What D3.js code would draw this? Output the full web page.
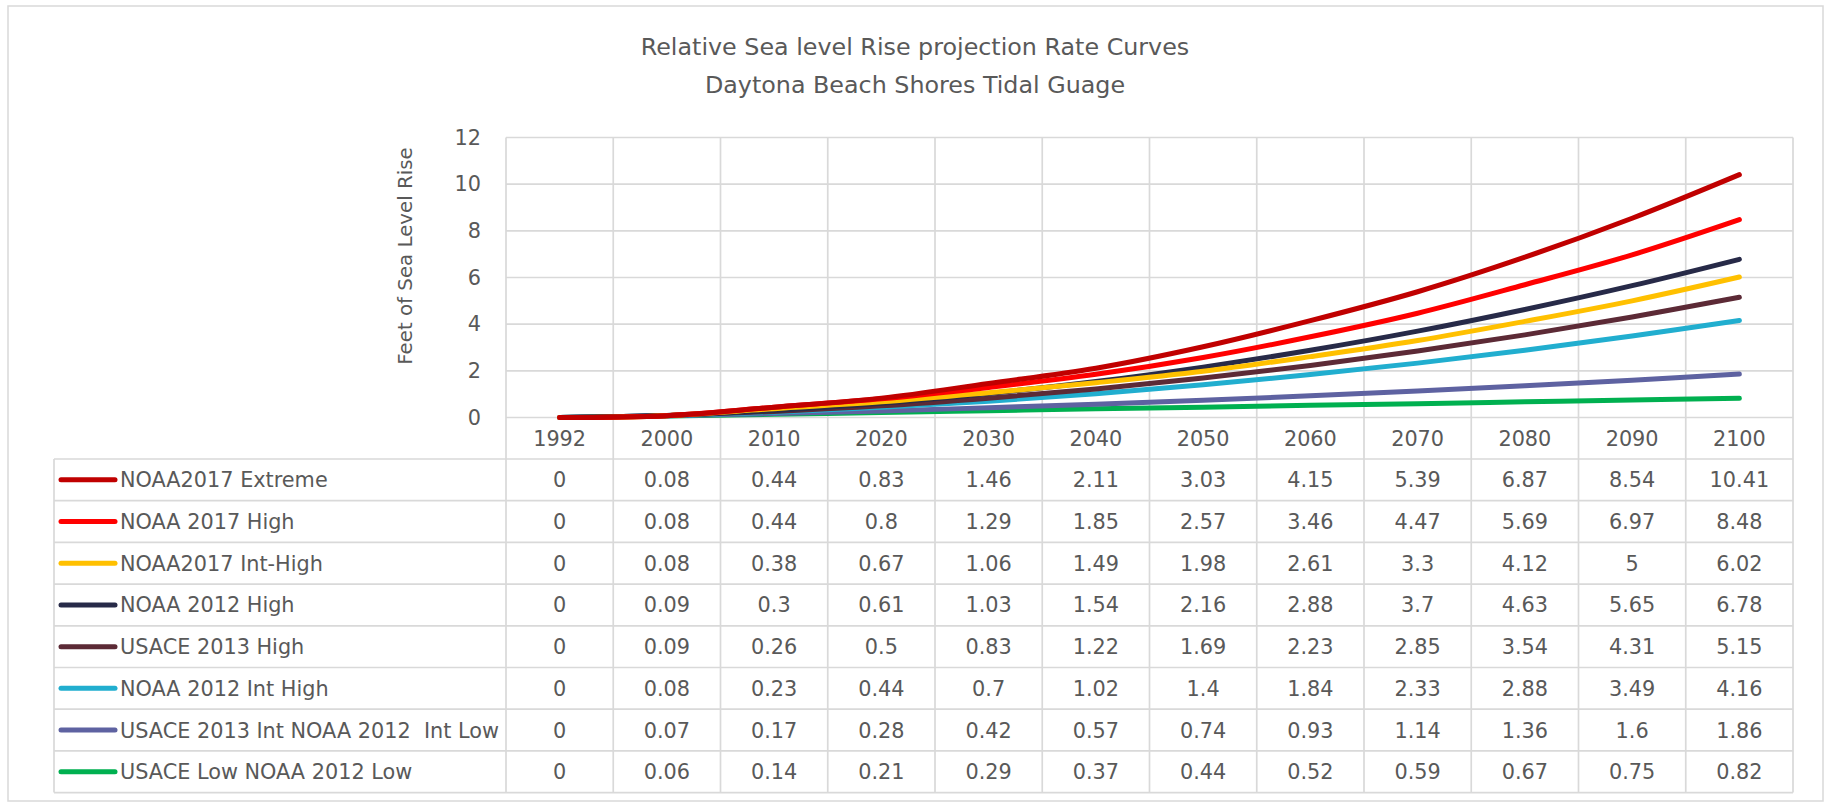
<!DOCTYPE html>
<html>
<head>
<meta charset="utf-8">
<script src="https://d3js.org/d3.v7.min.js"></script>
<style>
  body { margin: 0; background: #fff; }
  text { font-family: "DejaVu Sans", sans-serif; fill: #595959; }
</style>
</head>
<body>
<div class="chart"></div>
<script>

// chart data
var years = ["1992", "2000", "2010", "2020", "2030", "2040", "2050", "2060", "2070", "2080", "2090", "2100"];

var seriesNames = [
  "NOAA2017 Extreme",
  "NOAA 2017 High",
  "NOAA2017 Int-High",
  "NOAA 2012 High",
  "USACE 2013 High",
  "NOAA 2012 Int High",
  "USACE 2013 Int NOAA 2012  Int Low",
  "USACE Low NOAA 2012 Low"
];

var noaa2017Extreme = [0, 0.08, 0.44, 0.83, 1.46, 2.11, 3.03, 4.15, 5.39, 6.87, 8.54, 10.41];
var noaa2017High = [0, 0.08, 0.44, 0.8, 1.29, 1.85, 2.57, 3.46, 4.47, 5.69, 6.97, 8.48];
var noaa2017IntHigh = [0, 0.08, 0.38, 0.67, 1.06, 1.49, 1.98, 2.61, 3.3, 4.12, 5, 6.02];
var noaa2012High = [0, 0.09, 0.3, 0.61, 1.03, 1.54, 2.16, 2.88, 3.7, 4.63, 5.65, 6.78];
var usace2013High = [0, 0.09, 0.26, 0.5, 0.83, 1.22, 1.69, 2.23, 2.85, 3.54, 4.31, 5.15];
var noaa2012IntHigh = [0, 0.08, 0.23, 0.44, 0.7, 1.02, 1.4, 1.84, 2.33, 2.88, 3.49, 4.16];
var usaceIntNoaaIntLow = [0, 0.07, 0.17, 0.28, 0.42, 0.57, 0.74, 0.93, 1.14, 1.36, 1.6, 1.86];
var usaceLowNoaaLow = [0, 0.06, 0.14, 0.21, 0.29, 0.37, 0.44, 0.52, 0.59, 0.67, 0.75, 0.82];

var yTicks = [0, 2, 4, 6, 8, 10, 12];

var seriesColors = ["#C00000", "#FF0000", "#FFC000", "#272A48", "#5C2A36", "#21AECF", "#5E62A1", "#00B050"];

var seriesValues = [noaa2017Extreme, noaa2017High, noaa2017IntHigh, noaa2012High,
  usace2013High, noaa2012IntHigh, usaceIntNoaaIntLow, usaceLowNoaaLow];

var series = seriesNames.map(function(name, i) {
  return { name: name, color: seriesColors[i], values: seriesValues[i] };
});

var svgWidth = 1829;
var svgHeight = 803;

// plot box and data table below it
var plot = { left: 506, right: 1793, top: 137.5, bottom: 417.5 };
var table = { left: 54, headerBottom: 459, rowHeight: 41.7 };
var gridColor = "#D9D9D9";

var svg = d3.select(".chart")
  .append("svg")
  .attr("width", svgWidth)
  .attr("height", svgHeight);

// outer chart border
svg.append("rect")
  .attr("x", 8)
  .attr("y", 6)
  .attr("width", 1815)
  .attr("height", 795)
  .attr("fill", "none")
  .attr("stroke", gridColor)
  .attr("stroke-width", 1.5);

// title
var titleGroup = svg.append("g")
  .attr("font-size", "23.8px")
  .attr("text-anchor", "middle");

titleGroup.append("text")
  .attr("x", 915)
  .attr("y", 55)
  .text("Relative Sea level Rise projection Rate Curves");

titleGroup.append("text")
  .attr("x", 915)
  .attr("y", 93)
  .text("Daytona Beach Shores Tidal Guage");

// scales
var xBandScale = d3.scaleBand()
  .domain(years)
  .range([plot.left, plot.right]);

var xPoint = function(year) {
  return xBandScale(year) + xBandScale.bandwidth() / 2;
};

var yLinearScale = d3.scaleLinear()
  .domain([0, 12])
  .range([plot.bottom, plot.top]);

// horizontal gridlines
svg.append("g")
  .selectAll("line")
  .data(yTicks)
  .enter()
  .append("line")
  .attr("x1", plot.left)
  .attr("x2", plot.right)
  .attr("y1", d => yLinearScale(d))
  .attr("y2", d => yLinearScale(d))
  .attr("stroke", gridColor)
  .attr("stroke-width", 1.7);

var tableBottom = table.headerBottom + table.rowHeight * series.length;

// vertical lines run from the plot top through the table
var columnEdges = years.map(d => xBandScale(d)).concat([plot.right]);

svg.append("g")
  .selectAll("line")
  .data(columnEdges)
  .enter()
  .append("line")
  .attr("x1", d => d)
  .attr("x2", d => d)
  .attr("y1", plot.top)
  .attr("y2", tableBottom)
  .attr("stroke", gridColor)
  .attr("stroke-width", 1.7);

// table row lines and left edge
var rowEdges = d3.range(series.length + 1).map(i => table.headerBottom + i * table.rowHeight);

svg.append("g")
  .selectAll("line")
  .data(rowEdges)
  .enter()
  .append("line")
  .attr("x1", table.left)
  .attr("x2", plot.right)
  .attr("y1", d => d)
  .attr("y2", d => d)
  .attr("stroke", gridColor)
  .attr("stroke-width", 1.7);

svg.append("line")
  .attr("x1", table.left)
  .attr("x2", table.left)
  .attr("y1", table.headerBottom)
  .attr("y2", tableBottom)
  .attr("stroke", gridColor)
  .attr("stroke-width", 1.7);

// y axis
var leftAxis = d3.axisLeft(yLinearScale)
  .tickValues(yTicks)
  .tickSize(0)
  .tickPadding(25);

var yAxis = svg.append("g")
  .attr("transform", `translate(${plot.left}, 0)`)
  .call(leftAxis);

yAxis.select(".domain").remove();
yAxis.selectAll("text")
  .attr("font-size", "20.8px")
  .attr("font-family", "DejaVu Sans")
  .attr("fill", "#595959");

svg.append("text")
  .attr("transform", "rotate(-90)")
  .attr("x", -256)
  .attr("y", 412)
  .attr("text-anchor", "middle")
  .attr("font-size", "19.8px")
  .text("Feet of Sea Level Rise");

// x axis labels in the header row
svg.append("g")
  .selectAll("text")
  .data(years)
  .enter()
  .append("text")
  .attr("x", d => xPoint(d))
  .attr("y", (plot.bottom + table.headerBottom) / 2)
  .attr("dy", "0.36em")
  .attr("text-anchor", "middle")
  .attr("font-size", "20.8px")
  .text(d => d);

// lines
var line = d3.line()
  .x((d, i) => xPoint(years[i]))
  .y(d => yLinearScale(d))
  .curve(d3.curveCatmullRom);

// draw from the lowest series up so the top ones sit on top
svg.append("g")
  .selectAll("path")
  .data(series.slice().reverse())
  .enter()
  .append("path")
  .attr("d", d => line(d.values))
  .attr("fill", "none")
  .attr("stroke", d => d.color)
  .attr("stroke-width", 5)
  .attr("stroke-linecap", "round")
  .attr("stroke-linejoin", "round");

// table rows: legend key, name, values
var rows = svg.append("g")
  .selectAll("g")
  .data(series)
  .enter()
  .append("g")
  .attr("transform", (d, i) => `translate(0, ${table.headerBottom + (i + 0.5) * table.rowHeight})`);

rows.append("line")
  .attr("x1", 61)
  .attr("x2", 115)
  .attr("y1", 0)
  .attr("y2", 0)
  .attr("stroke", d => d.color)
  .attr("stroke-width", 5)
  .attr("stroke-linecap", "round");

rows.append("text")
  .attr("x", 120)
  .attr("dy", "0.36em")
  .attr("font-size", "20.8px")
  .attr("xml:space", "preserve")
  .style("white-space", "pre")
  .text(d => d.name);

rows.selectAll(".value")
  .data(d => d.values)
  .enter()
  .append("text")
  .attr("class", "value")
  .attr("x", (d, i) => xPoint(years[i]))
  .attr("dy", "0.36em")
  .attr("text-anchor", "middle")
  .attr("font-size", "20.8px")
  .text(d => d);

</script>
</body>
</html>
